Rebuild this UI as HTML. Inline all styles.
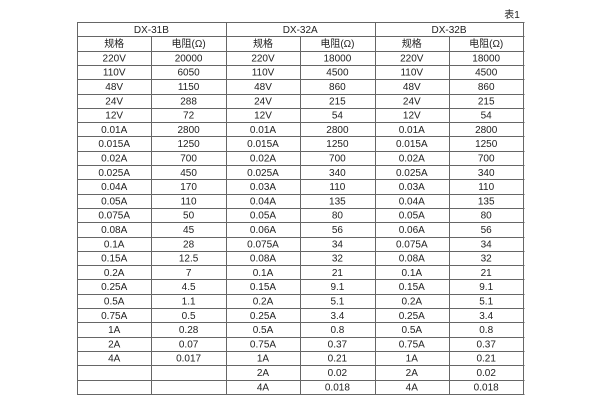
<!DOCTYPE html>
<html><head><meta charset="utf-8"><style>
body{margin:0;width:600px;height:400px;background:#fff;overflow:hidden}
svg{position:absolute;left:0;top:0}
text{font-family:"Liberation Sans","Noto Sans CJK SC",sans-serif;font-size:10px;fill:#222;text-anchor:middle}
</style></head><body>
<svg width="600" height="400" viewBox="0 0 600 400">
<text x="512" y="18">表1</text>
<g stroke="#666" stroke-width="1" shape-rendering="crispEdges" id="lines"></g>
<g id="txt"></g>
</svg>
<script>
var rows=[
["DX-31B","","DX-32A","","DX-32B",""],
["规格","电阻(Ω)","规格","电阻(Ω)","规格","电阻(Ω)"],
["220V","20000","220V","18000","220V","18000"],
["110V","6050","110V","4500","110V","4500"],
["48V","1150","48V","860","48V","860"],
["24V","288","24V","215","24V","215"],
["12V","72","12V","54","12V","54"],
["0.01A","2800","0.01A","2800","0.01A","2800"],
["0.015A","1250","0.015A","1250","0.015A","1250"],
["0.02A","700","0.02A","700","0.02A","700"],
["0.025A","450","0.025A","340","0.025A","340"],
["0.04A","170","0.03A","110","0.03A","110"],
["0.05A","110","0.04A","135","0.04A","135"],
["0.075A","50","0.05A","80","0.05A","80"],
["0.08A","45","0.06A","56","0.06A","56"],
["0.1A","28","0.075A","34","0.075A","34"],
["0.15A","12.5","0.08A","32","0.08A","32"],
["0.2A","7","0.1A","21","0.1A","21"],
["0.25A","4.5","0.15A","9.1","0.15A","9.1"],
["0.5A","1.1","0.2A","5.1","0.2A","5.1"],
["0.75A","0.5","0.25A","3.4","0.25A","3.4"],
["1A","0.28","0.5A","0.8","0.5A","0.8"],
["2A","0.07","0.75A","0.37","0.75A","0.37"],
["4A","0.017","1A","0.21","1A","0.21"],
["","","2A","0.02","2A","0.02"],
["","","4A","0.018","4A","0.018"]];
var NS="http://www.w3.org/2000/svg",L=document.getElementById("lines"),T=document.getElementById("txt");
var x0=77,w=74.4,y0=22,h=14.3;
function ln(a,b,c,d){var e=document.createElementNS(NS,"line");e.setAttribute("x1",a);e.setAttribute("y1",b);e.setAttribute("x2",c);e.setAttribute("y2",d);L.appendChild(e);}
for(var i=0;i<=26;i++){var y=Math.round(y0+h*i)+0.5;ln(x0,y,x0+6*w+1,y);}
var yb=Math.round(y0+h*26)+0.5;
for(var j=0;j<=6;j++){var x=Math.round(x0+w*j)+0.5;ln(x,Math.round(y0+(j%2?h:0))+0.5,x,yb);}
rows.forEach(function(r,i){r.forEach(function(s,j){if(!s)return;var t=document.createElementNS(NS,"text");var cx=i==0?x0+w*(j+1):x0+w*(j+0.5);t.setAttribute("x",cx);t.setAttribute("y",y0+h*i+10.8);t.textContent=s;T.appendChild(t);});});
</script>
</body></html>
